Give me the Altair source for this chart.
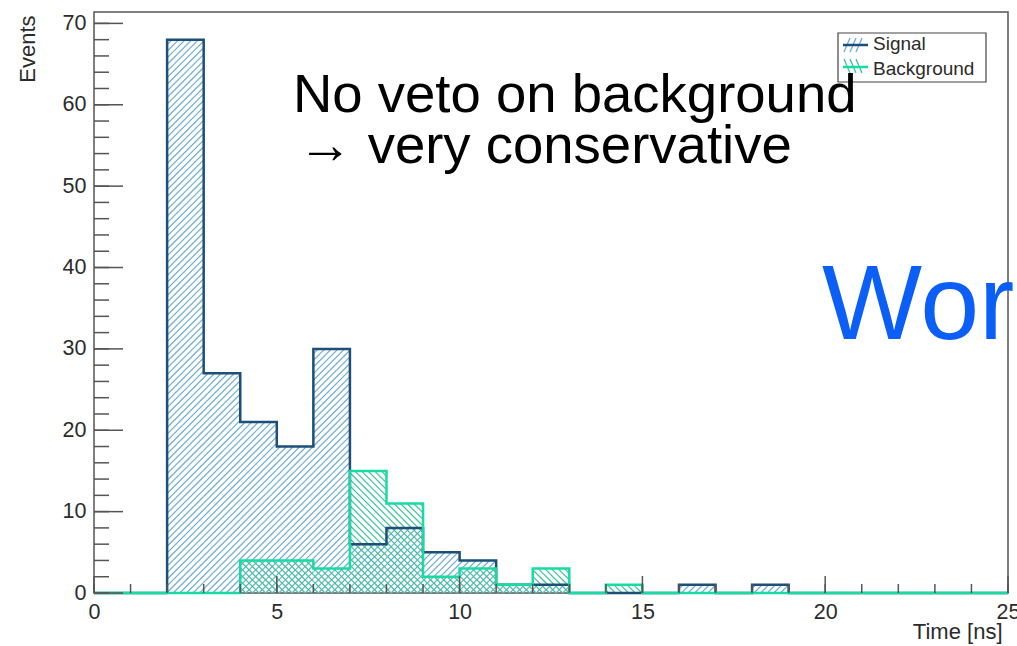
import math
import altair as alt
import pandas as pd

# Histogram contents, 1 ns bins from 0 to 25 ns
edges = list(range(26))
signal = [0, 0, 68, 27, 21, 18, 30, 6, 8, 5, 4, 1, 1, 0, 0, 0, 1, 0, 1, 0, 0, 0, 0, 0, 0]
background = [0, 0, 0, 0, 4, 4, 3, 15, 11, 2, 3, 1, 3, 0, 1, 0, 0, 0, 0, 0, 0, 0, 0, 0, 0]

x_labels = [0, 5, 10, 15, 20, 25]
y_labels = [0, 10, 20, 30, 40, 50, 60, 70]
x_minor = list(range(26))
y_minor = list(range(0, 71, 2))

FONT = "Liberation Sans"
NAVY = "#1d4f78"
SIG_HATCH = "#6eadd3"
GREEN = "#16dca4"
BKG_HATCH = "#3cc498"
AXIS_GREY = "#555555"
LABEL_GREY = "#2b2b2b"

W, H = 914, 581
XMAX, YMAX = 25, 71.4
sx, sy = W / XMAX, H / YMAX
PITCH = 6.6  # horizontal spacing of hatch lines, px

xscale = alt.Scale(domain=[0, XMAX], nice=False, zero=False)
yscale = alt.Scale(domain=[0, YMAX], nice=False, zero=False)

x_axis = alt.Axis(
    values=x_labels, ticks=False, domain=False, grid=False,
    labelFont=FONT, labelFontSize=21.5, labelColor=LABEL_GREY,
    labelPadding=8, labelFlush=False,
    title="Time [ns]", titleFont=FONT, titleFontSize=22,
    titleFontWeight="normal", titleColor=LABEL_GREY,
    titleAnchor="end", titleAlign="right", titleX=W - 6, titleY=45,
    titleBaseline="alphabetic",
)
y_axis = alt.Axis(
    values=y_labels, ticks=False, domain=False, grid=False,
    labelFont=FONT, labelFontSize=21.5, labelColor=LABEL_GREY,
    labelPadding=8, labelFlush=False,
    title="Events", titleFont=FONT, titleFontSize=22,
    titleFontWeight="normal", titleColor=LABEL_GREY,
    titleAnchor="end", titleAngle=270, titleAlign="right",
    titleBaseline="middle", titleX=-67, titleY=3,
)


def hatch(values, direction):
    """Diagonal hatch segments clipped to each bin's box (direction +1 '/', -1 '\\')."""
    rows = []
    for i, v in enumerate(values):
        if v <= 0:
            continue
        X0, X1 = edges[i] * sx, edges[i + 1] * sx
        Yh = v * sy
        if direction > 0:
            cmin, cmax = -X1, Yh - X0
        else:
            cmin, cmax = X0, Yh + X1
        for k in range(math.ceil(cmin / PITCH), math.floor(cmax / PITCH) + 1):
            c = k * PITCH
            if direction > 0:
                a, b = max(X0, -c), min(X1, Yh - c)
                ya, yb = a + c, b + c
            else:
                a, b = max(X0, c - Yh), min(X1, c)
                ya, yb = c - a, c - b
            if b - a > 0.3:
                rows.append(dict(x=a / sx, y=ya / sy, x2=b / sx, y2=yb / sy))
    return pd.DataFrame(rows)


def outline(values):
    xs = edges[:-1] + [edges[-1]]
    ys = values + [values[-1]]
    return pd.DataFrame({"x": xs, "y": ys})


def hatch_layer(values, direction, color):
    return alt.Chart(hatch(values, direction)).mark_rule(
        color=color, strokeWidth=1.2
    ).encode(
        x=alt.X("x:Q", scale=xscale, axis=x_axis),
        y=alt.Y("y:Q", scale=yscale, axis=y_axis),
        x2="x2:Q",
        y2="y2:Q",
    )


sig_hatch = hatch_layer(signal, 1, SIG_HATCH)
bkg_hatch = hatch_layer(background, -1, BKG_HATCH)


def outline_layer(values, color):
    return alt.Chart(outline(values)).mark_line(
        interpolate="step-after", color=color, strokeWidth=2.5
    ).encode(
        x=alt.X("x:Q", scale=xscale, axis=x_axis),
        y=alt.Y("y:Q", scale=yscale, axis=y_axis),
    )


sig_line = outline_layer(signal, NAVY)
bkg_line = outline_layer(background, GREEN)


# Inward-pointing tick marks on the bottom and left axes
def x_ticks(vals, length):
    return alt.Chart(pd.DataFrame({"x": vals})).mark_rule(
        color=AXIS_GREY, strokeWidth=1.5
    ).encode(
        x=alt.X("x:Q", scale=xscale, axis=x_axis),
        y=alt.value(H),
        y2=alt.value(H - length),
    )


def y_ticks(vals, length):
    return alt.Chart(pd.DataFrame({"y": vals})).mark_rule(
        color=AXIS_GREY, strokeWidth=1.5
    ).encode(
        y=alt.Y("y:Q", scale=yscale, axis=y_axis),
        x=alt.value(0),
        x2=alt.value(length),
    )


ticks = [x_ticks(x_minor, 9), x_ticks(x_labels, 17), y_ticks(y_minor, 15), y_ticks(y_labels, 29)]

# Legend box
legend_box = alt.Chart(pd.DataFrame({"a": [0]})).mark_rect(
    fill="white", stroke="#444444", strokeWidth=1.2
).encode(x=alt.value(744), x2=alt.value(892), y=alt.value(21), y2=alt.value(70))

legend_text = alt.Chart(pd.DataFrame({
    "label": ["Signal", "Background"],
    "px": [779, 779],
    "py": [32, 57],
})).mark_text(font=FONT, fontSize=19, align="left", baseline="middle", color=LABEL_GREY).encode(
    text="label:N", x=alt.X("px:Q", scale=None), y=alt.Y("py:Q", scale=None)
)

sw = pd.DataFrame({
    "x": [750, 756, 762, 750, 756, 762],
    "x2": [756, 762, 768, 756, 762, 768],
    "y": [40, 40, 40, 47, 47, 47],
    "y2": [26, 26, 26, 61, 61, 61],
    "c": [SIG_HATCH] * 3 + [BKG_HATCH] * 3,
})
legend_hatch = alt.Chart(sw).mark_rule(strokeWidth=1.3).encode(
    x=alt.X("x:Q", scale=None), x2="x2:Q",
    y=alt.Y("y:Q", scale=None), y2="y2:Q",
    color=alt.Color("c:N", scale=None),
)
legend_lines = alt.Chart(pd.DataFrame({
    "x": [749, 749], "x2": [774, 774], "y": [33, 55], "c": [NAVY, GREEN],
})).mark_rule(strokeWidth=2.5).encode(
    x=alt.X("x:Q", scale=None), x2="x2:Q",
    y=alt.Y("y:Q", scale=None),
    color=alt.Color("c:N", scale=None),
)

note = alt.Chart(pd.DataFrame({
    "t": ["No veto on background", "→ very conservative"],
    "px": [199, 204],
    "py": [100, 151],
})).mark_text(font=FONT, fontSize=54.5, align="left", baseline="alphabetic", color="#000000").encode(
    text="t:N", x=alt.X("px:Q", scale=None), y=alt.Y("py:Q", scale=None)
)

stamp = alt.Chart(pd.DataFrame({"t": ["Wor"]})).mark_text(
    font=FONT, fontSize=106, align="left", baseline="alphabetic", color="#0b5ff6"
).encode(text="t:N", x=alt.value(728), y=alt.value(327))

chart = alt.layer(
    sig_hatch, bkg_hatch, sig_line, bkg_line, *ticks,
    legend_box, legend_hatch, legend_lines, legend_text, note, stamp,
).properties(
    width=W, height=H,
    autosize=alt.AutoSizeParams(type="none"),
    padding={"left": 94, "top": 12, "right": 9, "bottom": 53},
    background="white",
).configure_view(stroke=AXIS_GREY, strokeWidth=1.5)

chart.save("out.html", embed_options={"renderer": "svg", "actions": False})
